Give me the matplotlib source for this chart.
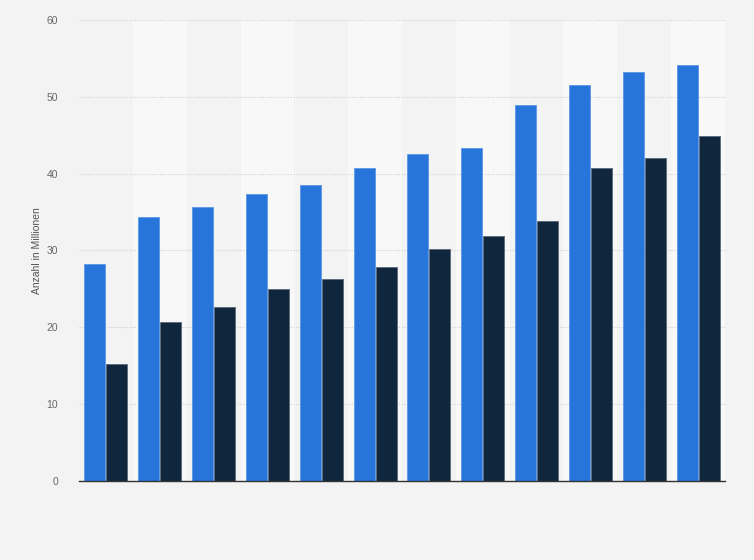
import numpy as np
import matplotlib.pyplot as plt

plt.rcParams['font.family'] = ['Liberation Sans', 'DejaVu Sans']

# values (Anzahl in Millionen)
groups = list(range(12))
series_a = [28.3, 34.4, 35.7, 37.4, 38.5, 40.7, 42.6, 43.3, 48.9, 51.5, 53.2, 54.1]
series_b = [15.2, 20.7, 22.6, 25.0, 26.3, 27.9, 30.2, 31.9, 33.9, 40.8, 42.1, 44.9]
y_ticks = [0, 10, 20, 30, 40, 50, 60]

fig = plt.figure(figsize=(7.54, 5.6), dpi=100)
fig.patch.set_facecolor('#f3f3f3')
ax = fig.add_axes([0.1048, 0.1411, 0.8567, 0.8232])
ax.set_facecolor('#f3f3f3')

x = np.arange(len(groups))

# alternating column bands
for i in x:
    if i % 2 == 1:
        ax.axvspan(i - 0.5, i + 0.5, color='#f8f8f8', zorder=0, lw=0)

w = 0.39
ax.bar(x - 0.205, series_a, width=w, color='#2774db', edgecolor='#5a97e6',
       linewidth=0.6, zorder=3)
ax.bar(x + 0.205, series_b, width=w, color='#10263d', edgecolor='#5b6878',
       linewidth=0.6, zorder=3)

ax.set_xlim(-0.5, len(groups) - 0.5)
ax.set_ylim(0, 60)
ax.set_yticks(y_ticks)
ax.set_yticklabels([str(t) for t in y_ticks], fontsize=7.5, color='#666666')
ax.set_xticks([])
ax.tick_params(axis='y', length=0, pad=15)
ax.yaxis.grid(True, linestyle=(0, (1, 1.5)), color='#cfcfcf', linewidth=0.8, zorder=1)
ax.set_axisbelow(True)

for side in ['top', 'right', 'left']:
    ax.spines[side].set_visible(False)
ax.spines['bottom'].set_color('#333333')
ax.spines['bottom'].set_linewidth(1.0)
ax.spines['bottom'].set_zorder(4)

ax.set_ylabel('Anzahl in Millionen', fontsize=7.5, color='#555555')
ax.yaxis.set_label_coords(-0.057, 0.5)

fig.savefig('out.png', dpi=100, facecolor=fig.get_facecolor())
